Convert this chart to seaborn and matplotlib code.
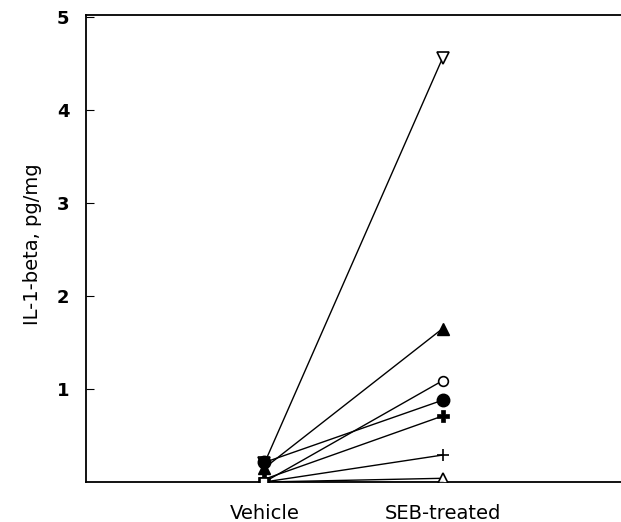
import numpy as np
import pandas as pd
import matplotlib
matplotlib.use("Agg")
import matplotlib.pyplot as plt
import seaborn as sns

# Dati
groups = ["Vehicle", "SEB-treated"]
subjects = ["S1", "S2", "S3", "S4", "S5", "S6", "S7", "S8"]
vehicle_vals = [0.20, 0.15, 0.00, 0.21, 0.03, 0.00, 0.00, 0.00]
seb_vals = [4.56, 1.65, 1.09, 0.88, 0.71, 0.29, 0.04, 0.00]
y_ticks = [1, 2, 3, 4, 5]

# stili marker per soggetto: (marker, pieno, dimensione, spessore bordo)
marker_styles = {
    "S1": ("v", False, 8, 1.2),
    "S2": ("^", True, 9, 1.0),
    "S3": ("o", False, 7, 1.2),
    "S4": ("o", True, 9, 1.0),
    "S5": ("P", True, 8, 0.5),
    "S6": ("+", False, 9, 1.2),
    "S7": ("^", False, 7, 1.2),
    "S8": ("s", False, 6, 1.2),
}

rows = []
for s, v0, v1 in zip(subjects, vehicle_vals, seb_vals):
    rows.append({"subject": s, "group": groups[0], "pos": 0, "value": v0})
    rows.append({"subject": s, "group": groups[1], "pos": 1, "value": v1})
df = pd.DataFrame(rows)

sns.set_style("ticks")
plt.rcParams['font.family'] = ['DejaVu Sans']
plt.rcParams['text.color'] = 'black'
plt.rcParams['axes.labelcolor'] = 'black'
plt.rcParams['xtick.color'] = 'black'
plt.rcParams['ytick.color'] = 'black'

fig = plt.figure(figsize=(6.21, 5.22), dpi=100)
ax = fig.add_axes([0.1385, 0.0766, 0.8615, 0.8946])

for s in subjects:
    m, filled, ms, mew = marker_styles[s]
    sub = df[df["subject"] == s]
    # l'ultimo soggetto ha il marker solo su Vehicle
    sns.lineplot(
        data=sub, x="pos", y="value", ax=ax, color="black", linewidth=1.0,
        marker=m, markersize=ms, markeredgewidth=mew, markeredgecolor="black",
        markerfacecolor="black" if filled else "white",
        markevery=[0] if s == "S8" else None,
        estimator=None, sort=False, legend=False, zorder=3,
    )

ax.set_xlim(-1.0, 2.0)
ax.set_ylim(0, 5.02)
ax.set_xticks([0, 1])
ax.set_xticklabels(groups, fontsize=14)
ax.tick_params(axis="x", length=0, pad=16)
ax.set_yticks(y_ticks)
ax.set_yticklabels([str(t) for t in y_ticks], fontsize=13, fontweight="bold")
ax.tick_params(axis="y", direction="in", length=6, width=0.8, pad=12)
ax.set_xlabel("")
ax.set_ylabel("IL-1-beta, pg/mg", fontsize=14)
ax.yaxis.set_label_coords(-0.082, 0.51)

for side in ["left", "bottom", "top"]:
    ax.spines[side].set_linewidth(1.3)
    ax.spines[side].set_color("black")
ax.spines["right"].set_visible(False)

fig.savefig("out.png", dpi=100)
